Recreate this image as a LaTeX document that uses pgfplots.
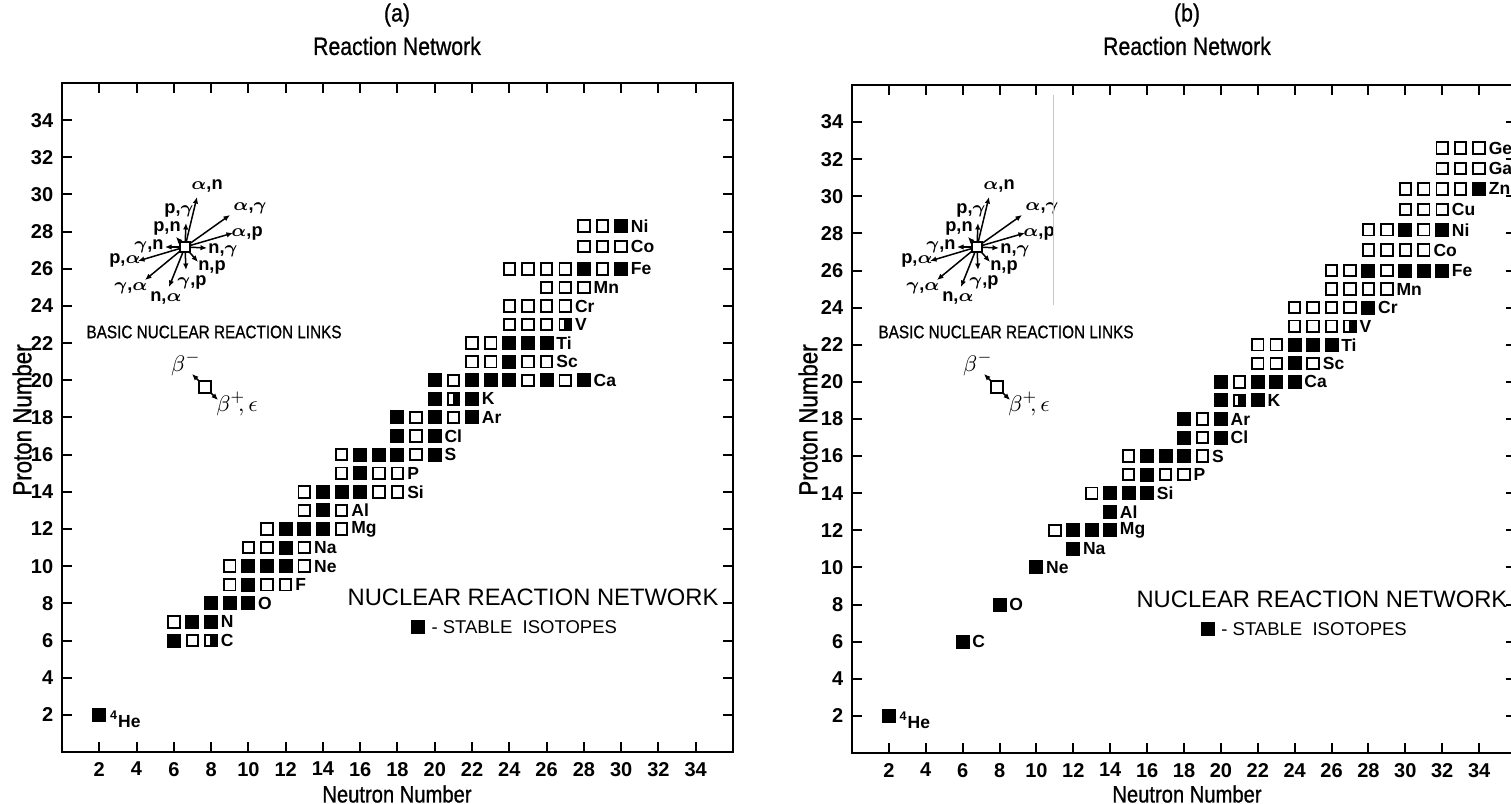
\documentclass[border=0pt]{standalone}
\usepackage{fontspec}
\setmainfont{Liberation Sans}
\newfontfamily\cond{Liberation Sans}[FakeStretch=0.85, FakeBold=0.8]
\usepackage{bm}
\usepackage{pgfplots}
\pgfplotsset{compat=1.18}
\usetikzlibrary{arrows.meta}

\pgfdeclareplotmark{hsq}{%
 \pgfpathrectangle{\pgfqpoint{-\pgfplotmarksize}{-\pgfplotmarksize}}{\pgfqpoint{2\pgfplotmarksize}{2\pgfplotmarksize}}%
 \pgfsetfillcolor{white}\pgfusepathqfillstroke
 \pgfpathrectangle{\pgfqpoint{-0.15\pgfplotmarksize}{-\pgfplotmarksize}}{\pgfqpoint{1.15\pgfplotmarksize}{2\pgfplotmarksize}}%
 \pgfsetfillcolor{black}\pgfusepathqfill}

\pgfplotsset{
 netaxis/.style={
  scale only axis, anchor=south west,
  xmin=0,xmax=36,ymin=0,ymax=36,
  xtick={2,4,...,34}, ytick={2,4,...,34},
  tick align=inside, major tick length=4pt,
  axis line style={line width=1pt},
  every tick/.style={line width=0.8pt, black},
  tick label style={font=\fontsize{8}{9}\selectfont\bfseries},
  xticklabel style={yshift=-0.5pt},
  /pgf/number format/assume math mode=true,
  clip=false,
 },
 openS/.style={only marks, mark=square, mark size=2.3pt, mark options={line width=0.75pt, draw=black, fill=white}},
 fillS/.style={only marks, mark=square*, mark size=2.6pt, mark options={draw=black, fill=black}},
 halfS/.style={only marks, mark=hsq, mark size=2.3pt, mark options={line width=0.75pt, draw=black}},
}
\tikzset{
 el/.style={anchor=west, inner sep=0pt, font=\fontsize{7}{8}\selectfont\bfseries},
 rl/.style={font=\fontsize{7.3}{8}\selectfont\bfseries, inner sep=0pt},
 arr/.style={line width=0.6pt, -{Latex[length=2.6pt,width=2.2pt]}},
}
\newcommand{\El}[3]{\node[el] at (axis cs:#2,#3) {#1};}
\newcommand{\rstar}[2]{%
 \begin{scope}[shift={(#1,#2)}]
  \draw[arr] (0,0) -- (12,-50);
  \draw[arr] (0,0) -- (1,-24);
  \draw[arr] (0,0) -- (-9,-10);
  \draw[arr] (0,0) -- (-20,0);
  \draw[arr] (0,0) -- (-47,14);
  \draw[arr] (0,0) -- (-40,33);
  \draw[arr] (0,0) -- (-16,40);
  \draw[arr] (0,0) -- (1,23);
  \draw[arr] (0,0) -- (13,15);
  \draw[arr] (0,0) -- (22,1);
  \draw[arr] (0,0) -- (48,-14);
  \draw[arr] (0,0) -- (45,-32);
  \draw[line width=0.8pt, fill=white] (-5,-5) rectangle (5,5);
  \node[rl] at (22,-61) {$\bm\alpha$,n};
  \node[rl] at (-6,-37) {p,$\bm\gamma$};
  \node[rl] at (-18,-19) {p,n};
  \node[rl] at (-36,-1) {$\bm\gamma$,n};
  \node[rl] at (-60,13) {p,$\bm\alpha$};
  \node[rl] at (-54,41) {$\bm\gamma$,$\bm\alpha$};
  \node[rl] at (-19,51) {n,$\bm\alpha$};
  \node[rl] at (7,35) {$\bm\gamma$,p};
  \node[rl] at (27,20) {n,p};
  \node[rl] at (38,3) {n,$\bm\gamma$};
  \node[rl] at (62,-14) {$\bm\alpha$,p};
  \node[rl] at (65,-39) {$\bm\alpha$,$\bm\gamma$};
  \node[anchor=west, inner sep=0pt, font=\cond\fontsize{7.2}{8}\selectfont] at (-99,85) {BASIC NUCLEAR REACTION LINKS};
  \draw[arr] (14,134) -- (7,127);
  \draw[arr] (26,146) -- (33,153);
  \draw[line width=0.8pt, fill=white] (14,134) rectangle (26,146);
  \node[rl, font=\fontsize{9}{10}\selectfont] at (1,117) {$\beta^{-}$};
  \node[rl, font=\fontsize{9}{10}\selectfont] at (52,157) {$\beta^{+}\!\!,\epsilon$};
 \end{scope}}

\begin{document}
\begin{tikzpicture}
\useasboundingbox (0,0) rectangle (604.4pt,321.2pt);
% ---------------- panel (a)
\begin{axis}[netaxis, at={(24.8pt,20.4pt)}, width=268.4pt, height=267.6pt]
\addplot[openS] coordinates {
(7,6) (6,7) (9,9) (11,9) (12,9) (9,10) (13,10) (10,11) (11,11) (13,11)
(11,12) (15,12) (13,13) (15,13) (13,14) (17,14) (18,14)
(15,15) (17,15) (18,15) (15,16) (19,16) (19,17) (19,18) (21,18)
(21,20) (25,20) (27,20) (22,21) (23,21) (25,21) (26,21) (22,22) (23,22)
(24,23) (25,23) (26,23) (24,24) (25,24) (26,24) (27,24) (26,25) (27,25) (28,25)
(24,26) (25,26) (26,26) (27,26) (29,26) (28,27.2) (29,27.2) (30,27.2) (28,28.3) (29,28.3)};
\addplot[fillS] coordinates {
(2,2) (6,6) (7,7) (8,7) (8,8) (9,8) (10,8) (10,9) (10,10) (11,10) (12,10) (12,11)
(12,12) (13,12) (14,12) (14,13) (14,14) (15,14) (16,14) (16,15) (16,16) (17,16) (18,16) (20,16)
(18,17) (20,17) (18,18) (20,18) (22,18) (20,19) (22,19) (20,20) (22,20) (23,20) (24,20) (26,20) (28,20)
(24,21) (24,22) (25,22) (26,22) (28,26) (30,26) (30,28.3)};
\addplot[halfS] coordinates {(8,6) (21,19) (27,23)};
\addplot[fillS, forget plot] coordinates {(19.1,6.7)};
\node[el] at (axis cs:2.55,1.75) {\textsuperscript{4}He};
\El{C}{8.5}{6} \El{N}{8.5}{7} \El{O}{10.5}{8} \El{F}{12.5}{9} \El{Ne}{13.5}{10} \El{Na}{13.5}{11}
\El{Mg}{15.5}{12} \El{Al}{15.5}{13} \El{Si}{18.5}{14} \El{P}{18.5}{15} \El{S}{20.5}{16} \El{Cl}{20.5}{17}
\El{Ar}{22.5}{18} \El{K}{22.5}{19} \El{Ca}{28.5}{20} \El{Sc}{26.5}{21} \El{Ti}{26.5}{22} \El{V}{27.5}{23}
\El{Cr}{27.5}{24} \El{Mn}{28.5}{25} \El{Fe}{30.5}{26} \El{Co}{30.5}{27.2} \El{Ni}{30.5}{28.3}
\node[anchor=west, inner sep=0pt, font=\fontsize{9.5}{10}\selectfont] at (axis cs:15.3,8.3) {NUCLEAR REACTION NETWORK};
\node[anchor=west, inner sep=0pt, font=\fontsize{7.4}{8}\selectfont] at (axis cs:19.8,6.7) {-\ STABLE\ \ ISOTOPES};
\end{axis}
% ---------------- panel (b)
\begin{axis}[netaxis, at={(340.8pt,20pt)}, width=265.6pt, height=267.2pt]
\addplot[openS] coordinates {
(11,12) (13,14) (15,15) (17,15) (18,15) (15,16) (19,16) (19,17) (19,18) (21,20)
(22,21) (23,21) (25,21) (22,22) (23,22) (24,23) (25,23) (26,23) (24,24) (25,24) (26,24) (27,24)
(26,25) (27,25) (28,25) (29,25) (26,26) (27,26) (29,26) (28,27.1) (29,27.1) (30,27.1) (31,27.1)
(28,28.2) (29,28.2) (31,28.2) (30,29.3) (31,29.3) (32,29.3) (30,30.4) (31,30.4) (32,30.4) (33,30.4)
(32,31.5) (33,31.5) (34,31.5) (32,32.6) (33,32.6) (34,32.6)};
\addplot[fillS] coordinates {
(2,2) (6,6) (8,8) (10,10) (12,11) (12,12) (13,12) (14,12) (14,13) (14,14) (15,14) (16,14)
(16,15) (16,16) (17,16) (18,16) (18,17) (20,17) (18,18) (20,18) (20,19) (22,19)
(20,20) (22,20) (23,20) (24,20) (24,21) (24,22) (25,22) (26,22) (28,24)
(28,26) (30,26) (31,26) (32,26) (30,28.2) (32,28.2) (34,30.4)};
\addplot[halfS] coordinates {(21,19) (27,23)};
\addplot[fillS, forget plot] coordinates {(19.3,6.7)};
\node[el] at (axis cs:2.55,1.75) {\textsuperscript{4}He};
\El{C}{6.5}{6} \El{O}{8.5}{8} \El{Ne}{10.5}{10} \El{Na}{12.5}{11} \El{Mg}{14.5}{12} \El{Al}{14.5}{13}
\El{Si}{16.5}{14} \El{P}{18.5}{15} \El{S}{19.5}{16} \El{Cl}{20.5}{17} \El{Ar}{20.5}{18} \El{K}{22.5}{19}
\El{Ca}{24.5}{20} \El{Sc}{25.5}{21} \El{Ti}{26.5}{22} \El{V}{27.5}{23} \El{Cr}{28.5}{24} \El{Mn}{29.5}{25}
\El{Fe}{32.5}{26} \El{Co}{31.5}{27.1} \El{Ni}{32.5}{28.2} \El{Cu}{32.5}{29.3} \El{Zn}{34.5}{30.4}
\El{Ga}{34.5}{31.5} \El{Ge}{34.5}{32.6}
\node[anchor=west, inner sep=0pt, font=\fontsize{9.5}{10}\selectfont] at (axis cs:15.4,8.3) {NUCLEAR REACTION NETWORK};
\node[anchor=west, inner sep=0pt, font=\fontsize{7.4}{8}\selectfont] at (axis cs:20,6.7) {-\ STABLE\ \ ISOTOPES};
\end{axis}
% ---------------- annotations in pixel coordinates
\begin{scope}[x=0.4pt,y=-0.4pt,yshift=321.2pt]
 \rstar{185}{247}
 \rstar{977}{247}
 \draw[gray!45, line width=0.3pt] (1053,95) -- (1053,305);
 \node[font=\cond\fontsize{10}{12}\selectfont] at (397,15) {(a)};
 \node[font=\cond\fontsize{10}{12}\selectfont] at (397,46) {Reaction Network};
 \node[font=\cond\fontsize{9.5}{11}\selectfont] at (397,794) {Neutron Number};
 \node[font=\cond\fontsize{10.5}{12}\selectfont, rotate=90] at (22,420) {Proton Number};
 \node[font=\cond\fontsize{10}{12}\selectfont] at (1187,15) {(b)};
 \node[font=\cond\fontsize{10}{12}\selectfont] at (1187,46) {Reaction Network};
 \node[font=\cond\fontsize{9.5}{11}\selectfont] at (1187,794) {Neutron Number};
 \node[font=\cond\fontsize{10.5}{12}\selectfont, rotate=90] at (808,420) {Proton Number};
\end{scope}
\end{tikzpicture}
\end{document}
